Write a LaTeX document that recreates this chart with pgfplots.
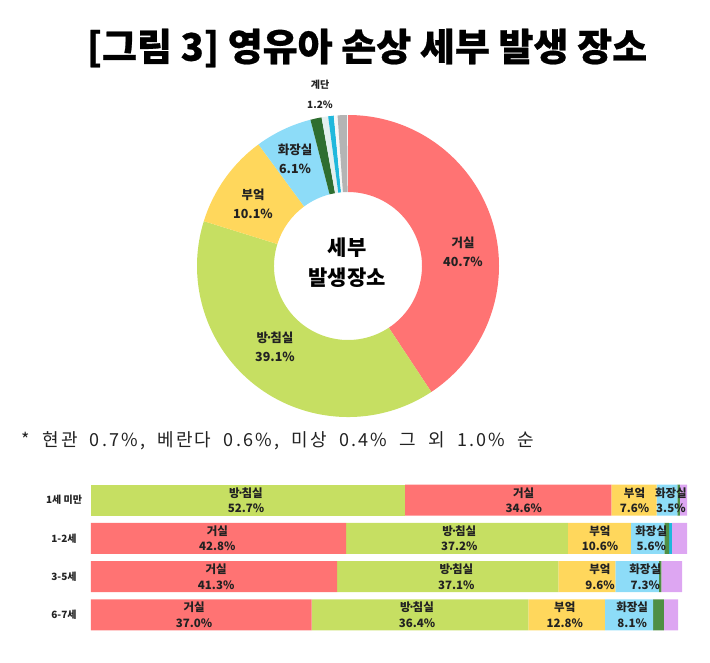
\documentclass[border=0pt]{standalone}
\usepackage{fontspec}
\setmainfont{Noto Sans CJK KR}
\newfontfamily\notefont{Noto Sans CJK KR}[LetterSpace=12, WordSpace=2]
\newfontfamily\titlefont{Noto Sans CJK KR}[BoldFeatures={FakeBold=0.6}]
\usepackage{pgfplots}
\pgfplotsset{compat=1.18}
\definecolor{cRed}{HTML}{FF7373}
\definecolor{cGreen}{HTML}{C6DF62}
\definecolor{cYellow}{HTML}{FFD75C}
\definecolor{cBlue}{HTML}{8DDCF8}
\definecolor{cDkGreen}{HTML}{2E6E30}
\definecolor{cBarDk}{HTML}{4F8F45}
\definecolor{cLight}{HTML}{E3EFEF}
\definecolor{cCyan}{HTML}{20B8DC}
\definecolor{cWhite}{HTML}{F7F7F7}
\definecolor{cGray}{HTML}{B4B4B4}
\definecolor{cPurple}{HTML}{DDA6F2}
\definecolor{cText}{HTML}{222222}
\newcommand\bang{방\kern-0.22em·\kern-0.22em침실}
\tikzset{bl/.style={font=\fontsize{11.5}{15.5}\selectfont\bfseries, text=cText, align=center},
  dl/.style={font=\fontsize{12.5}{19}\selectfont\bfseries, text=cText, align=center}}
% bar label: value position (percent), row (3 = top ... 0 = bottom), text
\newcommand\barlabel[3]{\node[bl] at ({91+5.96*#1},{-634+38.25*(#2+0.5)}) {#3};}
\begin{document}
\begin{tikzpicture}[x=1pt,y=1pt]
\useasboundingbox (0pt,0pt) rectangle (710pt,-662pt);
\node[font=\fontsize{38}{42}\titlefont\bfseries, text=black] at (367pt,-48pt) {[그림 3] 영유아 손상 세부 발생 장소};
% donut
\begin{axis}[at={(188pt,-426pt)}, anchor=south west, x=1pt, y=1pt,
  xmin=-160, xmax=160, ymin=-160, ymax=160, hide axis, clip=false]
\pgfplotsextra{
  \gdef\cum{0}
  \foreach \v/\c in {40.7/cRed,39.1/cGreen,10.1/cYellow,6.1/cBlue,1.2/cDkGreen,0.7/cLight,0.6/cCyan,0.4/cWhite,1.0/cGray}{
    \pgfmathsetmacro\st{90-3.6*\cum}
    \pgfmathsetmacro\en{90-3.6*(\cum+\v)}
    \fill[\c, shift={(axis cs:0,0)}] (\st:151pt) arc[start angle=\st, end angle=\en, radius=151pt] -- (\en:74pt) arc[start angle=\en, end angle=\st, radius=74pt] -- cycle;
    \pgfmathsetmacro\nc{\cum+\v}\xdef\cum{\nc}
  }
}
\end{axis}
\node[dl] at (463pt,-252pt) {거실\\40.7\%};
\node[dl] at (275pt,-347pt) {\bang\\39.1\%};
\node[dl] at (253pt,-204pt) {부엌\\10.1\%};
\node[dl] at (295pt,-159pt) {화장실\\6.1\%};
\node[font=\fontsize{10}{20}\selectfont\bfseries, text=cText, align=center] at (320pt,-94pt) {계단\\1.2\%};
\node[font=\fontsize{21}{30}\selectfont\bfseries, align=center] at (347pt,-263pt) {세부\\발생장소};
\node[anchor=west, font=\fontsize{18}{20}\notefont, text=cText] at (18pt,-441pt) {* 현관 0.7\%, 베란다 0.6\%, 미상 0.4\% 그 외 1.0\% 순};
% bars
\begin{axis}[at={(91pt,-634pt)}, anchor=south west, scale only axis,
  width=596pt, height=153pt, xbar stacked, bar width=31pt,
  xmin=0, xmax=100, ymin=-0.5, ymax=3.5,
  ytick={0,1,2,3}, yticklabels={6-7세,3-5세,1-2세,1세 미만},
  yticklabel style={font=\fontsize{10}{12}\selectfont\bfseries, text=cText, anchor=center, xshift=-27pt},
  xtick=\empty, axis line style={draw=none}, major tick length=0pt, clip=false,
  every axis plot/.append style={draw=none}]
\addplot[fill=cGreen] coordinates {(52.7,3) (0,2) (0,1) (0,0)};
\addplot[fill=cRed] coordinates {(34.6,3) (42.8,2) (41.3,1) (37.0,0)};
\addplot[fill=cGreen] coordinates {(0,3) (37.2,2) (37.1,1) (36.4,0)};
\addplot[fill=cYellow] coordinates {(7.6,3) (10.6,2) (9.6,1) (12.8,0)};
\addplot[fill=cBlue] coordinates {(3.5,3) (5.6,2) (7.3,1) (8.1,0)};
\addplot[fill=cBarDk] coordinates {(0.4,3) (0.8,2) (0.4,1) (1.8,0)};
\addplot[fill=cCyan] coordinates {(0,3) (0.4,2) (0,1) (0,0)};
\addplot[fill=cPurple] coordinates {(1.2,3) (2.6,2) (3.5,1) (2.4,0)};
\end{axis}
\barlabel{26.0}{3}{\bang\\52.7\%}
\barlabel{72.6}{3}{거실\\34.6\%}
\barlabel{91.2}{3}{부엌\\7.6\%}
\barlabel{97.3}{3}{화장실\\3.5\%}
\barlabel{21.2}{2}{거실\\42.8\%}
\barlabel{61.8}{2}{\bang\\37.2\%}
\barlabel{85.4}{2}{부엌\\10.6\%}
\barlabel{94.0}{2}{화장실\\5.6\%}
\barlabel{21.0}{1}{거실\\41.3\%}
\barlabel{61.3}{1}{\bang\\37.1\%}
\barlabel{85.4}{1}{부엌\\9.6\%}
\barlabel{93.0}{1}{화장실\\7.3\%}
\barlabel{17.3}{0}{거실\\37.0\%}
\barlabel{54.7}{0}{\bang\\36.4\%}
\barlabel{79.5}{0}{부엌\\12.8\%}
\barlabel{90.8}{0}{화장실\\8.1\%}
\end{tikzpicture}
\end{document}
